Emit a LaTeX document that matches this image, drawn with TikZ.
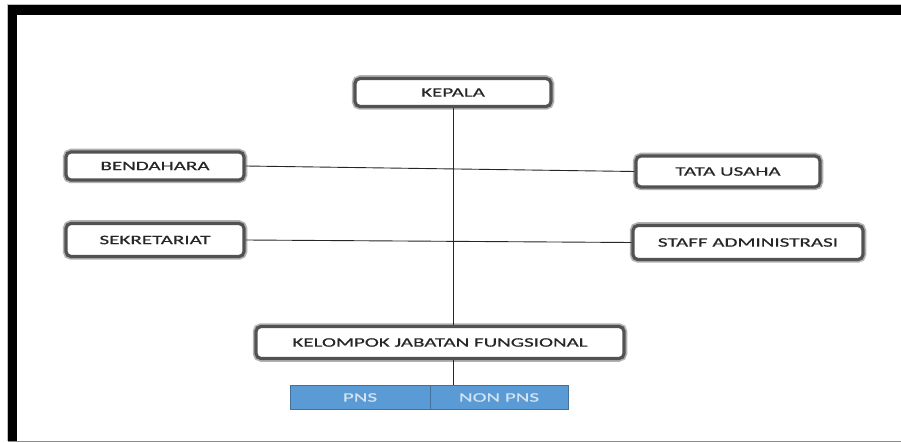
\documentclass[tikz,border=0pt]{standalone}
\usepackage{fontspec}
\setmainfont{Carlito}[FakeStretch=1.62, FakeBold=0.5]
\definecolor{txt}{HTML}{262626}
\definecolor{pnsfill}{HTML}{5B9BD5}
\definecolor{pnsdraw}{HTML}{41719C}
\definecolor{pnstxt}{HTML}{D4E3F2}
\begin{document}
\begin{tikzpicture}[x=1pt,y=1pt,
  orgbox/.style={draw=black!68, line width=3.2pt, rounded corners=5pt, fill=white,
    preaction={draw=black!30, line width=6.5pt, rounded corners=5pt},
    text=txt, font=\fontsize{13}{15}\selectfont, inner sep=0pt, anchor=center},
  subbox/.style={draw=pnsdraw, line width=1pt, fill=pnsfill, text=pnstxt,
    font=\fontsize{13}{15}\selectfont, inner sep=0pt, minimum height=24pt},
  link/.style={draw=black!85, line width=0.9pt}]
\useasboundingbox (0,0) rectangle (901,-443);
\fill[white] (0,0) rectangle (901,-443);
% frame
\fill[black] (8,-5) rectangle (901,-15);
\fill[black] (8,-5) rectangle (17,-441);
\draw[black!25, line width=0.8pt] (7.5,-441) -- (7.5,-4.5) -- (901,-4.5);
\draw[black!45, line width=1.6pt] (8,-441.5) -- (901,-441.5);
% nodes
\node[orgbox, minimum width=196pt, minimum height=28pt] (kepala) at (453,-92.5) {KEPALA};
\node[orgbox, minimum width=178pt, minimum height=28pt] (bend) at (155,-166) {BENDAHARA};
\node[orgbox, minimum width=184pt, minimum height=31pt] (tata) at (728,-171.5) {TATA USAHA};
\node[orgbox, minimum width=178pt, minimum height=33pt] (sek) at (155,-240) {SEKRETARIAT};
\node[orgbox, minimum width=230pt, minimum height=34pt] (staff) at (748,-242.5) {STAFF ADMINISTRASI};
\node[orgbox, minimum width=368pt, minimum height=32pt] (kjf) at (440,-342.5) {KELOMPOK JABATAN FUNGSIONAL};
\node[subbox, minimum width=140pt] (pns) at (360,-397.5) {PNS};
\node[subbox, minimum width=138pt] (nonpns) at (499,-397.5) {NON PNS};
% connectors
\draw[link] (kepala.south) -- (kepala.south |- kjf.north);
\draw[link] (bend.east) -- (tata.west);
\draw[link] (sek.east) -- (staff.west);
\draw[link] (kjf.south -| kepala.south) -- (nonpns.north -| kepala.south);
\end{tikzpicture}
\end{document}
